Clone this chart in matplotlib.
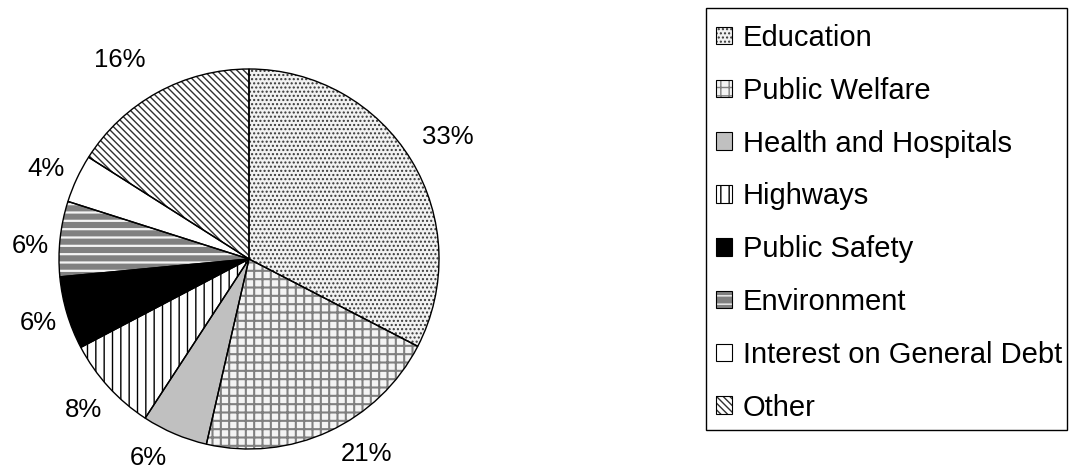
import numpy as np
import matplotlib
matplotlib.use('Agg')
import matplotlib.pyplot as plt
from matplotlib.patches import Patch, Rectangle

plt.rcParams['font.family'] = ['Liberation Sans', 'DejaVu Sans']

categories = ['Education', 'Public Welfare', 'Health and Hospitals', 'Highways',
              'Public Safety', 'Environment', 'Interest on General Debt', 'Other']
shares = [32.6, 21.0, 5.6, 8.1, 6.2, 6.4, 4.1, 16.0]

# fill / hatch look of each slice
face = ['#f2f2f2', '#f4f4f4', '#c0c0c0', 'white', 'black', '#808080', 'white', 'white']
hatches = ['....', '++', '', '||', '', '--', '', '\\\\\\\\\\']
hatch_col = ['#383838', '#808080', '#c0c0c0', 'black', 'black', '#f4f4f4', 'white', '#303030']
hatch_lw = [1.0, 1.5, 1.0, 1.0, 1.0, 1.6, 1.0, 1.0]
# percent label placement: distance (radii) and nudge from mid-angle (deg)
label_r = [1.228, 1.197, 1.173, 1.181, 1.16, 1.155, 1.169, 1.248]
label_nudge = [0.2, 6.2, -3.7, 0.0, 0.4, 2.7, 1.1, 4.2]

fig = plt.figure(figsize=(10.74, 4.70), dpi=100)
ax = fig.add_axes([59 / 1074, 21 / 470, 380 / 1074, 380 / 470])

for i in range(len(shares)):
    with plt.rc_context({'hatch.linewidth': hatch_lw[i]}):
        w, _ = ax.pie(shares, startangle=90, counterclock=False, colors=face,
                      hatch=hatches, wedgeprops=dict(linewidth=0))
    # keep only slice i of this layer
    for j, wj in enumerate(w):
        if j != i:
            wj.remove()
    wi = w[i]
    wi.set_edgecolor(hatch_col[i])
    wi.set_linewidth(0)
    if hasattr(wi, 'set_hatch_linewidth'):
        wi.set_hatch_linewidth(hatch_lw[i])

outline, _ = ax.pie(shares, startangle=90, counterclock=False,
                    wedgeprops=dict(fill=False, edgecolor='black', linewidth=1.0))

for k, w in enumerate(outline):
    mid = np.deg2rad((w.theta1 + w.theta2) / 2 + label_nudge[k])
    r = label_r[k]
    ax.text(r * np.cos(mid), r * np.sin(mid), f'{round(shares[k])}%',
            ha='center', va='center', fontsize=18.5)

ax.set_xlim(-1, 1)
ax.set_ylim(-1, 1)
ax.set_aspect('equal')
ax.axis('off')

handles = []
for i in range(len(shares)):
    hp = Patch(facecolor=face[i], hatch=hatches[i], edgecolor=hatch_col[i], linewidth=0)
    op = Patch(fill=False, edgecolor='black', linewidth=0.8)
    handles.append((hp, op))

fig.legend(handles, categories, loc='upper left',
           bbox_to_anchor=(716 / 1074, 1 - 24 / 470), borderaxespad=0,
           fontsize=21, frameon=False,
           handlelength=0.55, handleheight=0.55, handletextpad=0.36,
           labelspacing=0.85, borderpad=0)
fig.add_artist(Rectangle((706 / 1074, 1 - 430 / 470), (1067 - 706) / 1074, 422 / 470,
                         transform=fig.transFigure, fill=False,
                         edgecolor='black', linewidth=1.0))

fig.savefig('out.png', dpi=100)
